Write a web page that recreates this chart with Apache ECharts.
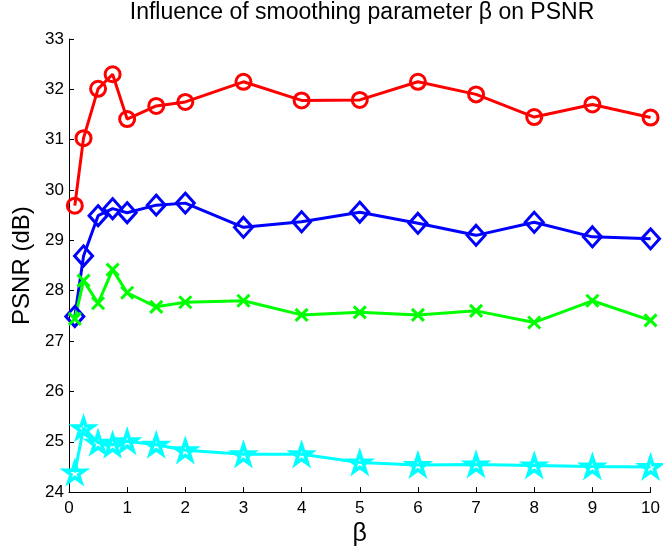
<!DOCTYPE html>
<html>
<head>
<meta charset="utf-8">
<script src="https://cdn.jsdelivr.net/npm/echarts@6/dist/echarts.min.js"></script>
<style>html,body{margin:0;padding:0;background:#fff}#c{width:663px;height:552px}</style>
</head>
<body>
<div id="c"></div>
<script>
const betas = [0.1, 0.25, 0.5, 0.75, 1, 1.5, 2, 3, 4, 5, 6, 7, 8, 9, 10];
const redCircle = [29.69, 31.03, 32.01, 32.30, 31.41, 31.67, 31.75, 32.15, 31.78, 31.79, 32.15, 31.90, 31.45, 31.70, 31.44];
const blueDiamond = [27.49, 28.69, 29.49, 29.63, 29.55, 29.70, 29.74, 29.26, 29.37, 29.56, 29.34, 29.10, 29.36, 29.07, 29.03];
const greenCross = [27.44, 28.20, 27.75, 28.42, 27.96, 27.68, 27.77, 27.80, 27.52, 27.57, 27.52, 27.60, 27.37, 27.80, 27.41];
const cyanStar = [24.39, 25.27, 24.98, 24.94, 25.01, 24.94, 24.83, 24.75, 24.75, 24.59, 24.54, 24.55, 24.53, 24.51, 24.50];
const xTicks = [0, 1, 2, 3, 4, 5, 6, 7, 8, 9, 10];
const yTicks = [24, 25, 26, 27, 28, 29, 30, 31, 32, 33];

const FONT = 'Liberation Sans, Arial, Helvetica, sans-serif';
const STAR = 'path://M50,0L61.2,34.5L97.6,34.5L68.2,55.9L79.4,90.5L50,69.1L20.6,90.5L31.8,55.9L2.4,34.5L38.8,34.5Z';
const CROSS = 'path://M0,0L10,10M10,0L0,10';

function pairs(ys) { return betas.map((b, i) => [b, ys[i]]); }
function mk(name, ys, color, symbol, size, bw) {
  return {
    name: name, type: 'line', data: pairs(ys),
    symbol: symbol, symbolSize: size, symbolKeepAspect: true,
    showAllSymbol: true,
    lineStyle: { color: color, width: 3 },
    itemStyle: { color: 'transparent', borderColor: color, borderWidth: bw },
    emphasis: { disabled: true },
    animation: false
  };
}

const chart = echarts.init(document.getElementById('c'), null, { renderer: 'canvas' });
chart.setOption({
  backgroundColor: '#fff',
  animation: false,
  title: {
    text: 'Influence of smoothing parameter \u03B2 on PSNR',
    left: 362, top: 1, textAlign: 'center', padding: 0,
    textStyle: { fontFamily: FONT, fontSize: 23, fontWeight: 'normal', color: '#000' }
  },
  grid: { left: 69, right: 9, top: 39, bottom: 52, containLabel: false },
  xAxis: {
    type: 'value', min: xTicks[0], max: xTicks[xTicks.length - 1], interval: 1,
    name: '\u03B2', nameLocation: 'middle', nameGap: 24,
    nameTextStyle: { fontFamily: FONT, fontSize: 25, color: '#000' },
    axisLine: { show: true, onZero: false, lineStyle: { color: '#000', width: 1 } },
    axisTick: { show: true, inside: true, length: 5, lineStyle: { color: '#000' } },
    axisLabel: { fontFamily: FONT, fontSize: 17, color: '#000', margin: 8 },
    splitLine: { show: false }
  },
  yAxis: {
    type: 'value', min: yTicks[0], max: yTicks[yTicks.length - 1], interval: 1,
    name: 'PSNR (dB)', nameLocation: 'middle', nameGap: 30,
    nameTextStyle: { fontFamily: FONT, fontSize: 24, color: '#000' },
    axisLine: { show: true, onZero: false, lineStyle: { color: '#000', width: 1 } },
    axisTick: { show: true, inside: true, length: 5, lineStyle: { color: '#000' } },
    axisLabel: { fontFamily: FONT, fontSize: 17, color: '#000', margin: 5 },
    splitLine: { show: false }
  },
  series: [
    mk('circle', redCircle, '#ff0000', 'circle', 15, 3),
    mk('diamond', blueDiamond, '#0000ff', 'diamond', [18, 20], 3),
    mk('cross', greenCross, '#00ff00', CROSS, 12, 3),
    mk('star', cyanStar, '#00ffff', STAR, 20, 3.5)
  ]
});
</script>
</body>
</html>
